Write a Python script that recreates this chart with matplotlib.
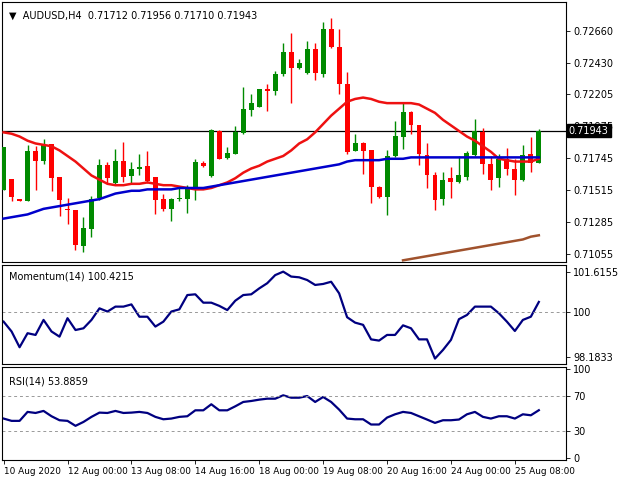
import matplotlib
matplotlib.use("Agg")
import matplotlib.pyplot as plt
import numpy as np

opens  = [.71517,.71592,.71449,.71440,.71799,.71721,.71846,.71606,.71381,.71372,.71111,.71235,.71458,.71693,.71564,.71724,.71616,.71663,.71688,.71606,.71451,.71376,.71449,.71454,.71517,.71710,.71616,.71939,.71745,.71775,.71928,.72092,.72115,.72245,.72228,.72350,.72507,.72390,.72355,.72526,.72346,.72674,.72545,.72280,.71799,.71853,.71803,.71540,.71463,.71763,.71893,.72076,.71982,.71768,.71623,.71451,.71604,.71576,.71611,.71770,.71935,.71700,.71599,.71735,.71670,.71587,.71775,.71712]
closes = [.71822,.71463,.71440,.71794,.71721,.71846,.71599,.71447,.71372,.71118,.71240,.71451,.71693,.71599,.71724,.71611,.71663,.71681,.71580,.71447,.71376,.71454,.71458,.71522,.71717,.71686,.71944,.71740,.71782,.71935,.72099,.72139,.72245,.72228,.72350,.72507,.72390,.72425,.72526,.72355,.72674,.72545,.72280,.71792,.71853,.71799,.71540,.71463,.71763,.71904,.72076,.71982,.71775,.71623,.71447,.71587,.71576,.71623,.71782,.71939,.71700,.71587,.71740,.71665,.71587,.71770,.71710,.71943]
highs  = [.71822,.71592,.71449,.71841,.71834,.71881,.71846,.71606,.71458,.71372,.71318,.71470,.71740,.71717,.71810,.71862,.71717,.71775,.71799,.71606,.71487,.71458,.71540,.71552,.71740,.71724,.71951,.71944,.71822,.71979,.72256,.72209,.72245,.72280,.72374,.72573,.72644,.72456,.72590,.72573,.72721,.72754,.72674,.72362,.71916,.71862,.71803,.71545,.71803,.72010,.72139,.72080,.71986,.71857,.71646,.71646,.71681,.71763,.71799,.72029,.71963,.71763,.71775,.71817,.71740,.71841,.71893,.71956]
lows   = [.71517,.71435,.71440,.71435,.71517,.71705,.71505,.71329,.71271,.71083,.71071,.71177,.71447,.71564,.71552,.71576,.71564,.71623,.71564,.71341,.71364,.71294,.71435,.71353,.71447,.71681,.71611,.71740,.71740,.71775,.71916,.72045,.72115,.72080,.72198,.72338,.72139,.72385,.72350,.72308,.72327,.72538,.72209,.71775,.71799,.71634,.71423,.71458,.71336,.71752,.71810,.71916,.71693,.71529,.71372,.71411,.71458,.71569,.71587,.71763,.71634,.71517,.71540,.71623,.71477,.71583,.71646,.71710]

ma_red = [.7193,.7192,.7190,.7187,.7185,.7184,.7183,.7180,.7176,.7172,.7167,.7162,.7159,.7156,.7155,.7155,.7156,.7156,.7157,.7156,.7155,.7155,.7154,.7153,.7152,.7152,.7153,.7155,.7157,.7160,.7164,.7167,.7169,.7172,.7174,.7176,.7180,.7185,.7188,.7193,.7199,.7205,.7210,.7215,.7217,.7218,.7217,.7215,.7214,.7214,.7214,.7214,.7213,.7210,.7207,.7202,.7198,.7194,.7190,.7187,.7183,.7179,.7174,.7173,.7172,.7172,.7172,.7174]
ma_blue = [.7131,.7132,.7133,.7134,.7136,.7138,.7139,.7140,.7141,.7142,.7143,.7144,.7145,.7147,.7149,.7150,.7151,.7151,.7152,.7152,.7152,.7152,.7153,.7153,.7153,.7153,.7154,.7155,.7156,.7157,.7158,.7159,.7160,.7161,.7162,.7163,.7164,.7165,.7166,.7167,.7168,.7169,.7170,.7172,.7173,.7173,.7173,.7173,.7174,.7174,.7174,.7175,.7175,.7175,.7175,.7175,.7175,.7175,.7175,.7175,.7175,.7175,.7175,.7175,.7175,.7175,.7175,.7175]
ma_brown_start = 50
ma_brown = [.7101,.7102,.7103,.7104,.7105,.7106,.7107,.7108,.7109,.7110,.7111,.7112,.7113,.7114,.7115,.7116,.7118,.7119]

momentum = [99.62,99.22,98.58,99.15,99.08,99.69,99.22,99.01,99.76,99.28,99.35,99.69,100.16,100.03,100.23,100.23,100.32,99.82,99.82,99.42,99.62,100.03,100.12,100.70,100.73,100.39,100.39,100.26,100.09,100.47,100.70,100.73,100.97,101.18,101.51,101.65,101.45,101.42,101.31,101.11,101.15,101.24,100.77,99.80,99.58,99.49,98.90,98.85,99.08,99.08,99.47,99.35,98.90,98.90,98.12,98.47,98.88,99.72,99.89,100.23,100.23,100.23,99.96,99.62,99.24,99.69,99.82,100.42]
rsi = [44.5,41.9,41.9,52.0,50.8,53.1,47.1,42.6,41.9,36.3,40.7,46.4,51.2,50.8,53.1,50.8,51.2,52.0,50.8,46.4,43.7,44.5,46.4,47.1,53.8,53.8,60.6,53.8,53.8,58.3,63.2,64.3,65.8,66.9,66.9,70.7,68.0,68.0,69.9,63.2,68.8,63.2,54.6,44.5,43.7,43.7,37.8,37.8,45.6,49.3,52.0,50.8,47.1,43.4,39.6,42.6,42.6,43.4,49.3,52.0,46.4,44.5,47.1,47.1,44.5,49.3,48.2,53.9]

price_ticks = [0.72660, 0.72430, 0.72205, 0.71975, 0.71745, 0.71515, 0.71285, 0.71055]
date_labels = ["10 Aug 2020", "12 Aug 00:00", "13 Aug 08:00", "14 Aug 16:00", "18 Aug 00:00",
               "19 Aug 08:00", "20 Aug 16:00", "24 Aug 00:00", "25 Aug 08:00"]
last_price = 0.71943

W, H = 640, 480
fig = plt.figure(figsize=(6.4, 4.8), dpi=100)
fig.patch.set_facecolor("white")

def ax_at(x0, y0, x1, y1):
    return fig.add_axes([x0 / W, 1 - y1 / H, (x1 - x0) / W, (y1 - y0) / H])

ax1 = ax_at(2, 2, 566, 262)
ax2 = ax_at(2, 265, 566, 364)
ax3 = ax_at(2, 367, 566, 460)

n = len(opens)
x = np.arange(n)
xlim = (-0.2, 70.4)
green, red = "#008a00", "#ff0000"
for i in range(n):
    c = green if closes[i] >= opens[i] else red
    ax1.vlines(x[i], lows[i], highs[i], color=c, lw=1, zorder=3)
    lo, hi = min(opens[i], closes[i]), max(opens[i], closes[i])
    ax1.bar(x[i], max(hi - lo, 0.00003), bottom=lo, width=0.62, color=c, zorder=4, linewidth=0)
ax1.plot(x, ma_red, color="#ee1111", lw=1.8, zorder=5)
ax1.plot(x, ma_blue, color="#0000cc", lw=1.8, zorder=5)
ax1.plot(np.arange(ma_brown_start, ma_brown_start + len(ma_brown)), ma_brown, color="#a0522d", lw=1.8, zorder=5)
ax1.axhline(last_price, color="black", lw=0.9, zorder=2)
ax1.set_ylim(0.70998, 0.72867)
ax1.set_yticks(price_ticks)
ax1.set_yticklabels([f"{v:.5f}" for v in price_ticks])
ax1.text(0.012, 0.965, "\u25bc  AUDUSD,H4  0.71712 0.71956 0.71710 0.71943", transform=ax1.transAxes,
         fontsize=7, va="top", ha="left")
ax1.text(1.005, last_price, f"{last_price:.5f}", transform=ax1.get_yaxis_transform(), fontsize=7,
         color="white", va="center", ha="left", clip_on=False,
         bbox=dict(boxstyle="square,pad=0.2", fc="black", ec="black"), zorder=10)

ax2.plot(x, momentum, color="#000080", lw=1.6)
ax2.axhline(100, color="#999999", lw=0.7, ls=(0, (3, 3)))
ax2.set_ylim(97.90, 101.92)
ax2.set_yticks([101.6155, 100, 98.1833])
ax2.set_yticklabels(["101.6155", "100", "98.1833"])
ax2.text(0.012, 0.93, "Momentum(14) 100.4215", transform=ax2.transAxes, fontsize=7, va="top")

ax3.plot(x, rsi, color="#000080", lw=1.6)
for lvl in (70, 30):
    ax3.axhline(lvl, color="#999999", lw=0.7, ls=(0, (3, 3)))
ax3.set_ylim(-2.2, 102.6)
ax3.set_yticks([100, 70, 30, 0])
ax3.text(0.012, 0.9, "RSI(14) 53.8859", transform=ax3.transAxes, fontsize=7, va="top")

for ax in (ax1, ax2, ax3):
    ax.set_xlim(*xlim)
    ax.yaxis.tick_right()
    ax.tick_params(axis="y", labelsize=7, length=3, width=0.6, pad=2)
    for s in ax.spines.values():
        s.set_linewidth(0.8)
    ax.set_xticks([])

ax3.set_xticks(np.arange(0, 8 * len(date_labels), 8))
ax3.set_xticklabels(date_labels, ha="left")
ax3.tick_params(axis="x", labelsize=6.4, length=3, width=0.6, pad=2)

fig.savefig("out.png", dpi=100)
